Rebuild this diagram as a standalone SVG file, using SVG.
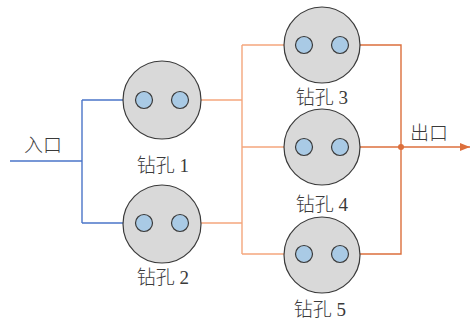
<svg xmlns="http://www.w3.org/2000/svg" width="470" height="322" viewBox="0 0 470 322">
<style>
.big{fill:#d9d9d9;stroke:#3a3a3a;stroke-width:1.2}
.sm{fill:#a9cae5;stroke:#3a3a3a;stroke-width:1.2}
.lbl{font-family:"Liberation Serif","Noto Sans CJK SC",serif;font-size:19px;font-weight:300;fill:#3a3a3a;text-anchor:middle}
.blue{fill:none;stroke:#4a74c8;stroke-width:1.4}
.orl{fill:none;stroke:#f4a67c;stroke-width:1.4}
.ord{fill:none;stroke:#dc6f3c;stroke-width:1.4}
</style>
<defs>
<marker id="ab" markerWidth="10" markerHeight="8" refX="10" refY="4" orient="auto" markerUnits="userSpaceOnUse"><path d="M0,0 L10,4 L0,8 Z" fill="#3f6fc8"/></marker>
<marker id="ao" markerWidth="10" markerHeight="8" refX="10" refY="4" orient="auto" markerUnits="userSpaceOnUse"><path d="M0,0 L10,4 L0,8 Z" fill="#f4a67c"/></marker>
<marker id="ad" markerWidth="10" markerHeight="8" refX="10" refY="4" orient="auto" markerUnits="userSpaceOnUse"><path d="M0,0 L10,4 L0,8 Z" fill="#dc6f3c"/></marker>
</defs>
<g id="connectors">
<path class="blue" d="M10,161 H82"/>
<path class="blue" d="M82,100 V223"/>
<path class="blue" d="M82,100 H135" marker-end="url(#ab)"/>
<path class="blue" d="M82,223 H135" marker-end="url(#ab)"/>
<path class="orl" d="M189,100 H242"/>
<path class="orl" d="M189,223 H242"/>
<path class="orl" d="M242,45 V254"/>
<path class="orl" d="M242,45 H295" marker-end="url(#ao)"/>
<path class="orl" d="M242,147 H295" marker-end="url(#ao)"/>
<path class="orl" d="M242,254 H295" marker-end="url(#ao)"/>
<path class="ord" d="M349,45 H401 V254 H349"/>
<path class="ord" d="M349,147 H470" marker-end="url(#ad)"/>
<circle cx="401" cy="147" r="3" fill="#dc6f3c"/>
<text class="lbl" x="43" y="152">入口</text>
<text class="lbl" x="429" y="140">出口</text>
</g>
<g id="n1">
<circle class="big" cx="162" cy="100" r="39"/>
<circle class="sm" cx="144" cy="100" r="8.5"/>
<circle class="sm" cx="180" cy="100" r="8.5"/>
<text class="lbl" x="163" y="172">钻孔 1</text>
</g>
<g id="n2">
<circle class="big" cx="162" cy="224" r="39"/>
<circle class="sm" cx="144" cy="223" r="8.5"/>
<circle class="sm" cx="180" cy="223" r="8.5"/>
<text class="lbl" x="163" y="284">钻孔 2</text>
</g>
<g id="n3">
<circle class="big" cx="322" cy="45" r="38"/>
<circle class="sm" cx="304" cy="45" r="8.5"/>
<circle class="sm" cx="340" cy="45" r="8.5"/>
<text class="lbl" x="322" y="104">钻孔 3</text>
</g>
<g id="n4">
<circle class="big" cx="322" cy="147" r="38"/>
<circle class="sm" cx="304" cy="147" r="8.5"/>
<circle class="sm" cx="340" cy="147" r="8.5"/>
<text class="lbl" x="322" y="211">钻孔 4</text>
</g>
<g id="n5">
<circle class="big" cx="322" cy="255" r="38"/>
<circle class="sm" cx="304" cy="254" r="8.5"/>
<circle class="sm" cx="340" cy="254" r="8.5"/>
<text class="lbl" x="320" y="316">钻孔 5</text>
</g>
</svg>
